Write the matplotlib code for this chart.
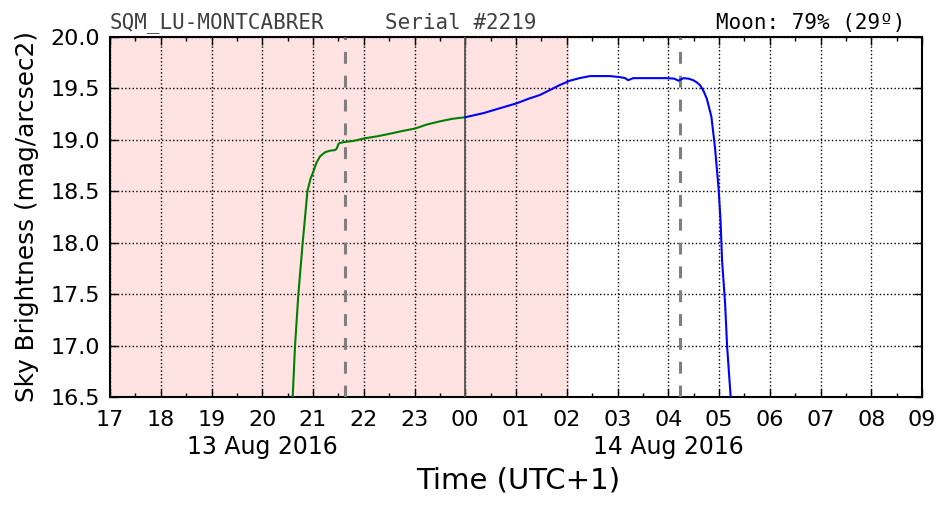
import matplotlib
matplotlib.use("Agg")
import matplotlib.pyplot as plt
from matplotlib.ticker import MultipleLocator, FuncFormatter
import matplotlib.transforms as mtransforms

# ---- data (hours since 00:00 13 Aug 2016, UTC+1) ----
green_hours = [20.60, 20.645, 20.71, 20.795, 20.89, 20.95, 21.006, 21.07, 21.14, 21.24,
               21.335, 21.43, 21.46, 21.48, 21.50, 21.53, 21.63, 21.80, 22.02, 22.27,
               22.52, 22.75, 23.01, 23.25, 23.50, 23.75, 24.0]
green_mag = [16.50, 16.99, 17.49, 17.99, 18.50, 18.62, 18.69, 18.78, 18.84, 18.88,
             18.895, 18.90, 18.91, 18.93, 18.96, 18.97, 18.98, 18.99, 19.015, 19.035,
             19.06, 19.085, 19.11, 19.15, 19.18, 19.205, 19.22]
blue_hours = [24.0, 24.36, 24.70, 25.01, 25.25, 25.47, 25.67, 25.85, 26.06, 26.25,
              26.46, 26.65, 26.85, 27.05, 27.15, 27.21, 27.31, 27.60, 27.97, 28.12,
              28.20, 28.30, 28.40, 28.49, 28.56, 28.63, 28.70, 28.76, 28.85, 28.92,
              28.99, 29.03, 29.06, 29.12, 29.16, 29.23]
blue_mag = [19.22, 19.26, 19.31, 19.355, 19.40, 19.436, 19.485, 19.53, 19.575, 19.60,
            19.62, 19.62, 19.62, 19.61, 19.60, 19.58, 19.60, 19.60, 19.60, 19.595,
            19.575, 19.60, 19.595, 19.58, 19.56, 19.53, 19.47, 19.40, 19.225, 18.93,
            18.54, 18.22, 17.83, 17.41, 16.99, 16.50]

night_span = [17.0, 26.05]
twilight_lines = [21.63, 28.23]
midnight = 24.0
x_range = [17, 33]
y_range = [16.5, 20.0]
date_labels = ["13 Aug 2016", "14 Aug 2016"]
date_label_hours = [20, 28]
station = "SQM_LU-MONTCABRER"
serial = "Serial #2219"
moon = "Moon: 79% (29º)"

fig = plt.figure(figsize=(9.52, 5.12), dpi=100)
ax = fig.add_axes([110/952, 1-397/512, 812/952, 360/512])

ax.axvspan(night_span[0], night_span[1], color='#ffe3e3', lw=0, zorder=0)
for h in twilight_lines:
    ax.axvline(h, color='#7f7f7f', lw=2.2, dashes=(3.9, 3.9), zorder=3)
ax.axvline(midnight, color='#555555', lw=1.3, zorder=3)

ax.plot(green_hours, green_mag, color='green', lw=1.5, zorder=4)
ax.plot(blue_hours, blue_mag, color='blue', lw=1.5, zorder=4)

ax.set_xlim(*x_range)
ax.set_ylim(*y_range)
ax.xaxis.set_major_locator(MultipleLocator(1))
ax.xaxis.set_minor_locator(MultipleLocator(0.5))
ax.xaxis.set_major_formatter(FuncFormatter(lambda v, p: "%02d" % (int(round(v)) % 24)))
ax.yaxis.set_major_locator(MultipleLocator(0.5))
ax.yaxis.set_major_formatter(FuncFormatter(lambda v, p: "%.1f" % v))

ax.grid(True, which='major', color='k', linestyle=':', lw=1.0)
ax.set_axisbelow(False)
ax.tick_params(which='both', direction='in', top=True, right=True, labelsize=16)
ax.tick_params(which='major', length=6, width=1)
ax.tick_params(which='minor', length=3, width=1)
ax.tick_params(axis='x', pad=9)
ax.tick_params(axis='y', pad=7)
for s in ax.spines.values():
    s.set_linewidth(1.5)

trans = mtransforms.blended_transform_factory(ax.transData, ax.transAxes)
for lab, h in zip(date_labels, date_label_hours):
    ax.text(h, -0.138, lab, transform=trans, ha='center', va='center', fontsize=17)

fig.text(518/952, 1-481/512, "Time (UTC+1)", ha='center', va='center', fontsize=21)
fig.text(27/952, 1-217/512, "Sky Brightness (mag/arcsec2)", ha='center', va='center',
         rotation=90, fontsize=17.8)

ax.text(0.0, 1.012, station, transform=ax.transAxes, ha='left', va='bottom',
        family='DejaVu Sans Mono', fontsize=15, color='#404040')
ax.text(0.3387, 1.012, serial, transform=ax.transAxes, ha='left', va='bottom',
        family='DejaVu Sans Mono', fontsize=15, color='#404040')
ax.text(0.979, 1.012, moon, transform=ax.transAxes, ha='right', va='bottom',
        family='DejaVu Sans Mono', fontsize=15, color='black')

fig.savefig("out.png", dpi=100)
